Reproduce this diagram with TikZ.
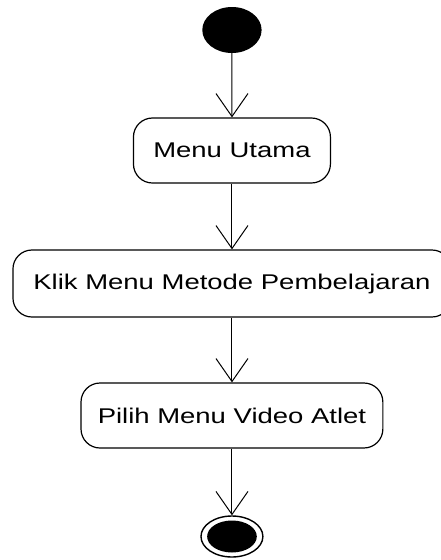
\documentclass[tikz,border=0pt]{standalone}
\usepackage{fontspec}
\setmainfont{Liberation Sans}
\usetikzlibrary{arrows.meta,shapes.geometric}

\tikzset{
  activity/.style={draw, line width=1.2pt, rounded corners=19pt,
    minimum height=65pt, inner sep=0pt, align=center,
    font=\fontsize{21.3}{25}\selectfont},
  flow/.style={line width=1pt,
    -{Straight Barb[length=23pt,width=32pt,line width=1pt]}},
  initial/.style={circle, fill=black, minimum size=46pt, inner sep=0pt},
  finalring/.style={ellipse, draw, line width=1.4pt, minimum width=48pt,
    minimum height=41pt, inner sep=0pt},
  finaldot/.style={ellipse, fill=black, minimum width=38.5pt,
    minimum height=32pt, inner sep=0pt},
}

\begin{document}
\begin{tikzpicture}[x=1pt, y=-1pt, xscale=1.29, every node/.append style={transform shape}]
  \useasboundingbox (0,0) rectangle (341.86,560);

  \node[initial] (start) at (179.8,30) {};
  \node[activity, minimum width=152.7pt] (menu) at (179.8,150.5) {Menu Utama};
  \node[activity, minimum width=339.5pt, minimum height=67pt] (klik) at (179.8,283.5) {Klik Menu Metode Pembelajaran};
  \node[activity, minimum width=234pt] (pilih) at (179.8,415.5) {Pilih Menu Video Atlet};
  \node[finalring] (end) at (179.8,536.5) {};
  \node[finaldot] (enddot) at (end.center) {};

  \draw[flow] (start) -- (menu.north);
  \draw[flow] (menu.south) -- (klik.north);
  \draw[flow] (klik.south) -- (pilih.north);
  \draw[flow] (pilih.south) -- (end.north);
\end{tikzpicture}
\end{document}
